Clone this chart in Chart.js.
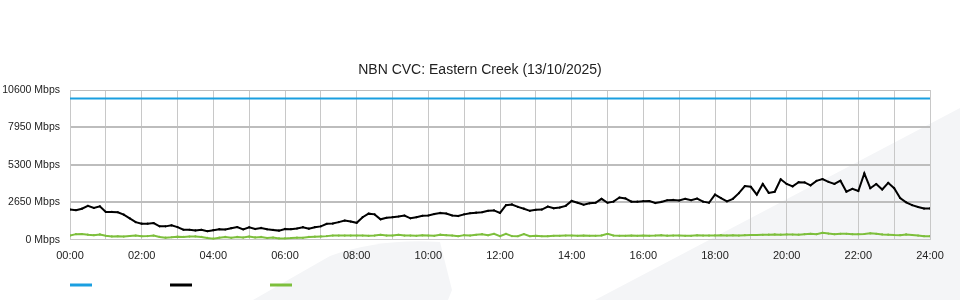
<!DOCTYPE html>
<html>
<head>
<meta charset="utf-8">
<title>NBN CVC: Eastern Creek</title>
<script src="https://cdn.jsdelivr.net/npm/chart.js@4/dist/chart.umd.min.js"></script>
<style>
    html, body { margin: 0; padding: 0; background: #fff; }
    #wrap { position: relative; width: 960px; height: 300px; }
    #chartTitle {
        position: absolute; left: 0; top: 61px; width: 960px;
        text-align: center; font: 14px "Liberation Sans", Arial, sans-serif;
        color: #222; line-height: 17px; z-index: 2;
    }
</style>
</head>
<body>
<div id="wrap">
    <div id="chartTitle">NBN CVC: Eastern Creek (13/10/2025)</div>
    <canvas id="cvcChart" width="960" height="300"></canvas>
</div>
<script>
// x labels, one per hour (only even hours are printed)
const hourLabels = ['00:00', '', '02:00', '', '04:00', '', '06:00', '', '08:00', '', '10:00', '', '12:00', '',
    '14:00', '', '16:00', '', '18:00', '', '20:00', '', '22:00', '', '24:00'];

// y ticks
const yTicks = [0, 2650, 5300, 7950, 10600];

// capacity line (Mbps) at start and end of the day, x in 10 minute steps
const capacitySteps = [0, 144];
const capacityMbps = [10000, 10000];

// used bandwidth (Mbps), one value every 10 minutes, 00:00 -> 24:00
const usedMbps = [
    2140, 2100, 2200, 2400, 2250, 2370,
    1970, 1970, 1950, 1780, 1520, 1250,
    1140, 1140, 1180, 950, 950, 1020,
    900, 710, 710, 660, 710, 610,
    680, 750, 730, 820, 900, 740,
    880, 760, 840, 740, 700, 650,
    770, 750, 800, 890, 790, 890,
    950, 1130, 1150, 1250, 1360, 1290,
    1200, 1600, 1850, 1800, 1450, 1560,
    1600, 1650, 1720, 1520, 1600, 1700,
    1720, 1820, 1900, 1860, 1720, 1680,
    1800, 1880, 1920, 1950, 2050, 2080,
    1900, 2450, 2500, 2330, 2200, 2050,
    2120, 2140, 2350, 2230, 2280, 2400,
    2750, 2620, 2480, 2580, 2620, 2900,
    2620, 2700, 2990, 2930, 2700, 2700,
    2730, 2740, 2600, 2680, 2800, 2820,
    2780, 2900, 2800, 2920, 2700, 2620,
    3200, 2950, 2720, 2900, 3300, 3800,
    3750, 3200, 3950, 3320, 3400, 4280,
    3950, 3780, 4080, 4060, 3850, 4170,
    4300, 4100, 3950, 4180, 3400, 3600,
    3450, 4700, 3650, 3950, 3560, 4030,
    3650, 2950, 2650, 2450, 2320, 2210,
    2220
];

// second traffic series (Mbps), same steps
const otherMbps = [
    300, 400, 410, 360, 330, 380,
    280, 240, 250, 230, 270, 300,
    250, 260, 300, 200, 150, 180,
    220, 200, 230, 240, 200, 130,
    80, 150, 200, 140, 200, 160,
    230, 170, 200, 120, 160, 100,
    100, 120, 150, 140, 200, 220,
    240, 260, 300, 300, 300, 300,
    300, 300, 280, 300, 350, 300,
    300, 350, 300, 300, 280, 320,
    300, 280, 360, 330, 300, 260,
    330, 300, 350, 400, 320, 420,
    250, 420, 260, 250, 400, 250,
    280, 250, 260, 280, 280, 300,
    300, 280, 300, 280, 280, 310,
    420, 300, 280, 280, 300, 280,
    300, 280, 300, 330, 290, 300,
    300, 280, 280, 320, 300, 300,
    310, 330, 300, 320, 300, 330,
    340, 340, 350, 360, 380, 360,
    380, 370, 360, 400, 420, 400,
    500, 440, 400, 420, 420, 400,
    400, 410, 460, 420, 380, 360,
    340, 330, 380, 340, 300, 260,
    260
];

const colours = ['#1a9fe0', '#000000', '#7dbf3c'];

// turn a plain value list into {x, y} points (x = 10 minute step)
function toPoints(values, steps) {
    return values.map((v, i) => ({ x: steps ? steps[i] : i, y: v }));
}

// faint background shapes behind the chart
const backdrop = {
    id: 'backdrop',
    beforeDraw(chart) {
        const ctx = chart.ctx;
        ctx.save();
        ctx.fillStyle = '#f4f5f7';
        ctx.beginPath();
        ctx.moveTo(595, 300);
        ctx.lineTo(960, 108);
        ctx.lineTo(960, 300);
        ctx.closePath();
        ctx.fill();
        ctx.beginPath();
        ctx.moveTo(253, 300);
        ctx.lineTo(330, 256);
        ctx.quadraticCurveTo(380, 238, 440, 242);
        ctx.lineTo(452, 290);
        ctx.lineTo(448, 300);
        ctx.closePath();
        ctx.fill();
        ctx.restore();
    }
};

// legend: short coloured lines, no text
const lineLegend = {
    id: 'lineLegend',
    afterDraw(chart) {
        const ctx = chart.ctx;
        const left = chart.chartArea.left;
        ctx.save();
        ctx.lineWidth = 3;
        chart.data.datasets.forEach((ds, i) => {
            ctx.strokeStyle = ds.borderColor;
            ctx.beginPath();
            ctx.moveTo(left + i * 100, 285);
            ctx.lineTo(left + i * 100 + 22, 285);
            ctx.stroke();
        });
        ctx.restore();
    }
};

function initChart() {
    const ctx = document.getElementById('cvcChart').getContext('2d');
    Chart.defaults.font.family = '"Liberation Sans", Arial, sans-serif';
    Chart.defaults.color = '#222';

    new Chart(ctx, {
        type: 'line',
        data: {
            datasets: [{
                data: toPoints(capacityMbps, capacitySteps),
                borderColor: colours[0],
                borderWidth: 2,
                pointRadius: 0
            }, {
                data: toPoints(usedMbps),
                borderColor: colours[1],
                borderWidth: 2,
                pointRadius: 1.1,
                pointBackgroundColor: colours[1],
                pointBorderWidth: 0
            }, {
                data: toPoints(otherMbps),
                borderColor: colours[2],
                borderWidth: 2,
                pointRadius: 1.1,
                pointBackgroundColor: colours[2],
                pointBorderWidth: 0
            }]
        },
        options: {
            responsive: false,
            animation: false,
            layout: {
                padding: { top: 90, left: 0, right: 30, bottom: 27 }
            },
            plugins: {
                legend: { display: false },
                tooltip: { enabled: false },
                title: { display: false }
            },
            scales: {
                x: {
                    type: 'linear',
                    min: 0,
                    max: 144,
                    grid: { color: '#c8c8c8', lineWidth: 1, drawTicks: false },
                    border: { color: '#c8c8c8' },
                    ticks: {
                        stepSize: 6,
                        autoSkip: false,
                        maxRotation: 0,
                        padding: 10,
                        font: { size: 11 },
                        callback: value => hourLabels[value / 6]
                    }
                },
                y: {
                    min: 0,
                    max: 10600,
                    afterBuildTicks: axis => { axis.ticks = yTicks.map(v => ({ value: v })); },
                    afterFit: axis => { axis.width = 70; },
                    grid: {
                        color: '#bdbdbd',
                        lineWidth: c => (c.tick && (c.tick.value === 0 || c.tick.value === 10600)) ? 1 : 2,
                        drawTicks: false
                    },
                    border: { color: '#c8c8c8' },
                    ticks: {
                        padding: 10,
                        font: { size: 10.5 },
                        callback: value => value + ' Mbps'
                    }
                }
            }
        },
        plugins: [backdrop, lineLegend]
    });
}

initChart();
</script>
</body>
</html>
